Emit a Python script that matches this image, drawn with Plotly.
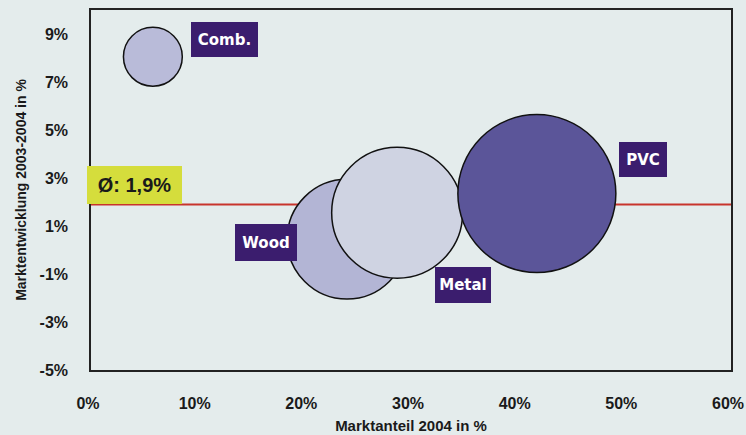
import plotly.graph_objects as go

# ---- data ----
segments = ["Comb.", "Wood", "Metal", "PVC"]
market_share_2004 = [5.8, 24.0, 28.7, 41.8]      # x, also bubble size
growth_2003_2004 = [8.05, 0.45, 1.55, 2.35]      # y
avg_growth = 1.9
avg_label = "Ø: 1,9%"
x_ticks = [0, 10, 20, 30, 40, 50, 60]
y_ticks = [-5, -3, -1, 1, 3, 5, 7, 9]

# ---- style ----
BG = "#e4ecec"
fills = ["#b9bbd9", "#b3b5d5", "#cfd3e2", "#5b5599"]
LABEL_BG = "#3b1d6e"
MAX_DIAM = 158
label_offsets = {"Comb.": (72, 17), "Wood": (-81, -3), "Metal": (66, -72), "PVC": (106, 34)}
label_boxes = {"Comb.": (67, 35), "Wood": (62, 37), "Metal": (56, 36), "PVC": (48, 35)}

fig = go.Figure()
fig.add_trace(go.Scatter(
    x=market_share_2004, y=growth_2003_2004, mode="markers",
    marker=dict(size=market_share_2004, sizemode="area",
                sizeref=2.0 * max(market_share_2004) / MAX_DIAM ** 2,
                color=fills, opacity=1,
                line=dict(color="#111111", width=1.5)),
    hoverinfo="skip", showlegend=False,
))

fig.add_shape(type="line", xref="paper", x0=0, x1=1, yref="y", y0=avg_growth, y1=avg_growth,
              line=dict(color="#c8342c", width=2), layer="below")

for name, xv, yv in zip(segments, market_share_2004, growth_2003_2004):
    dx, dy = label_offsets[name]
    w, h = label_boxes[name]
    fig.add_annotation(x=xv, y=yv, xref="x", yref="y", text=name, showarrow=False,
                       xshift=dx, yshift=dy, width=w, height=h, bgcolor=LABEL_BG,
                       borderpad=0, borderwidth=0, align="center", valign="middle",
                       font=dict(family="DejaVu Sans", size=15, color="white", weight="bold"))

fig.add_annotation(x=0, y=avg_growth, xref="x", yref="y", text=avg_label, showarrow=False,
                   xanchor="left", yanchor="bottom", xshift=-4, yshift=0,
                   width=95, height=38, bgcolor="#d5dd3c", borderpad=0, borderwidth=0,
                   align="center", valign="middle",
                   font=dict(family="Liberation Sans", size=20, color="#1a1a1a", weight="bold"))

axis_common = dict(showgrid=False, zeroline=False, showline=True, mirror=True, automargin=False,
                   linecolor="#222222", linewidth=1.5, ticks="", ticklabeloverflow="allow",
                   tickfont=dict(family="Liberation Sans", size=16, color="#1a1a1a", weight="bold"))

fig.update_xaxes(range=[0, 60], tickvals=x_ticks, ticktext=[f"{v}%" for v in x_ticks],
                 ticklabelstandoff=18, ticklabelshift=-3,
                 title=dict(text="Marktanteil 2004 in %", standoff=10,
                            font=dict(family="Liberation Sans", size=15, color="#1a1a1a", weight="bold")),
                 **axis_common)
fig.update_yaxes(range=[-5, 10], tickvals=y_ticks, ticktext=[f"{v}%" for v in y_ticks],
                 ticklabelstandoff=18,
                 title=dict(text="Marktentwicklung 2003-2004 in %", standoff=10,
                            font=dict(family="Liberation Sans", size=14, color="#1a1a1a", weight="bold")),
                 **axis_common)

fig.update_layout(width=746, height=435, margin=dict(l=91, r=15, t=10, b=65),
                  paper_bgcolor=BG, plot_bgcolor=BG)

fig.write_html("out.html")
